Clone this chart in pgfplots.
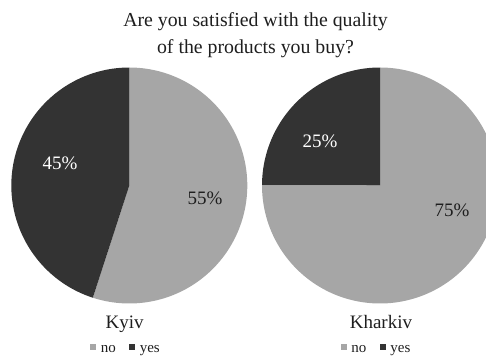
\documentclass[border=0pt]{standalone}
\usepackage{fontspec}
\setmainfont{Liberation Serif}
\usepackage{pgfplots}
\usepackage{pgfplotstable}
\pgfplotsset{compat=1.18}
\definecolor{pieno}{HTML}{A6A6A6}
\definecolor{pieyes}{HTML}{333333}
\definecolor{txt}{HTML}{1E1E1E}

\pgfplotstableread{
city no yes
Kyiv 55 45
Kharkiv 75 25
}\piedata

\newcommand{\bigf}{\fontsize{19}{22}\selectfont}
\newcommand{\titf}{\fontsize{19.8}{22}\selectfont}
\pgfplotsset{
  piestyle/.style={
    width=236pt, height=236pt, scale only axis,
    xmin=-1, xmax=1, ymin=-1, ymax=1,
    hide axis, clip=false, anchor=center,
    legend style={draw=none, fill=none, legend columns=2,
      at={(0.485,-0.197)}, anchor=center,
      font=\fontsize{15}{17}\selectfont, text=txt,
      nodes={inner sep=1.5pt},
      /tikz/every odd column/.append style={column sep=3pt},
      /tikz/every even column/.append style={column sep=12pt}},
    legend image code/.code={\path[##1] (0pt,0pt) rectangle (6pt,6pt);},
  },
  slice/.style={draw=none, samples=120, smooth},
}

\begin{document}
\begin{tikzpicture}
\clip (0,0) rectangle (486pt,356pt);
\useasboundingbox (0,0) rectangle (486pt,356pt);

\pgfplotstablegetelem{0}{no}\of\piedata \edef\kyivno{\pgfplotsretval}
\pgfplotstablegetelem{0}{yes}\of\piedata \edef\kyivyes{\pgfplotsretval}
\pgfplotstablegetelem{1}{no}\of\piedata \edef\kharno{\pgfplotsretval}
\pgfplotstablegetelem{1}{yes}\of\piedata \edef\karyes{\pgfplotsretval}

\pgfmathsetmacro{\kyA}{90-3.6*\kyivno}
\pgfmathsetmacro{\khA}{90-3.6*\kharno}

% Title
\node[anchor=base, text=txt, font=\titf] at (255.5pt,329pt) {Are you satisfied with the quality};
\node[anchor=base, text=txt, font=\titf] at (255.5pt,302pt) {of the products you buy?};

% Kyiv
\begin{axis}[piestyle, at={(129.3pt,170.5pt)}]
\addplot[slice, fill=pieno, domain=90:\kyA] ({cos(x)},{sin(x)}) -- (0,0) -- cycle;
\addlegendentry{no}
\addplot[slice, fill=pieyes, domain=\kyA:-270] ({cos(x)},{sin(x)}) -- (0,0) -- cycle;
\addlegendentry{yes}
\node[text=white, font=\bigf] at (axis cs:-0.587,0.19) {\kyivyes\%};
\node[text=txt, font=\bigf] at (axis cs:0.642,-0.106) {\kyivno\%};
\node[anchor=base, text=txt, font=\bigf] at (axis cs:-0.04,-1.208) {Kyiv};
\end{axis}

% Kharkiv
\begin{axis}[piestyle, at={(380pt,170.5pt)}]
\addplot[slice, fill=pieno, domain=90:\khA] ({cos(x)},{sin(x)}) -- (0,0) -- cycle;
\addlegendentry{no}
\addplot[slice, fill=pieyes, domain=\khA:-270] ({cos(x)},{sin(x)}) -- (0,0) -- cycle;
\addlegendentry{yes}
\node[text=white, font=\bigf] at (axis cs:-0.508,0.377) {\karyes\%};
\node[text=txt, font=\bigf] at (axis cs:0.61,-0.208) {\kharno\%};
\node[anchor=base, text=txt, font=\bigf] at (axis cs:0.008,-1.208) {Kharkiv};
\end{axis}
\end{tikzpicture}
\end{document}
